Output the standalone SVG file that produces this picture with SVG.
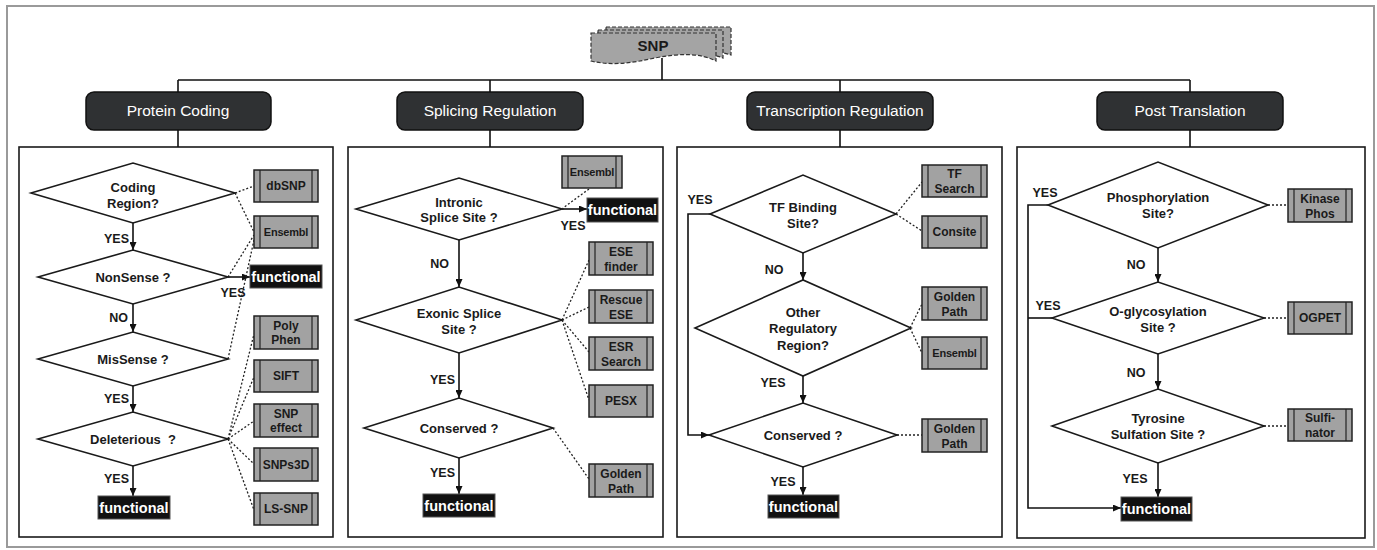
<svg xmlns="http://www.w3.org/2000/svg" width="1377" height="550" viewBox="0 0 1377 550">
<defs>
<marker id="ah" markerUnits="userSpaceOnUse" markerWidth="8" markerHeight="7" refX="8" refY="3.5" orient="auto">
<path d="M0,0 L8,3.5 L0,7 Z" fill="#111"/>
</marker>
<style>
.frame{fill:#fff;stroke:#9a9a9a;stroke-width:2}
.panel{fill:#fff;stroke:#1a1a1a;stroke-width:1.6}
.hdr rect{fill:#2f3133;stroke:#111;stroke-width:1.5}
.hdr text{font-family:"Liberation Sans",Arial,sans-serif;font-size:15.5px;fill:#fff;text-anchor:middle}
.dia{fill:#fff;stroke:#1a1a1a;stroke-width:1.6}
.q{font-family:"Liberation Sans",Arial,sans-serif;font-size:13px;font-weight:bold;fill:#1a1a1a;text-anchor:middle}
.lbl{font-family:"Liberation Sans",Arial,sans-serif;font-size:12.5px;font-weight:bold;fill:#1a1a1a}
.tool rect{fill:#a2a2a2;stroke:#222;stroke-width:1.5}
.tool line{stroke:#222;stroke-width:1.2}
.tool text{font-family:"Liberation Sans",Arial,sans-serif;font-size:12px;font-weight:bold;fill:#1a1a1a;text-anchor:middle}
.tool text.ens{font-size:11px;letter-spacing:-0.2px}
.fn rect{fill:#111;stroke:#555;stroke-width:1}
.fn text{font-family:"Liberation Sans",Arial,sans-serif;font-size:14.5px;font-weight:bold;fill:#fff;text-anchor:middle}
.flow{stroke:#111;stroke-width:1.6;fill:none}
.arr{stroke:#111;stroke-width:1.6;fill:none;marker-end:url(#ah)}
.dot{stroke:#222;stroke-width:1.3;stroke-dasharray:2 2;fill:none}
.snp{fill:#a4a4a4;stroke:#333;stroke-width:1.2;stroke-dasharray:4 2}
</style>
</defs>
<rect class="frame" x="7" y="6" width="1367" height="541"/>

<!-- SNP -->
<g id="snp">
<path class="snp" d="M606,27 H731 V55 C722,52 715,52 708,53 L708,40 L606,40 Z"/>
<path class="snp" d="M598,30 H723 V58 C716,55 710,55 704,56 L704,42 L598,42 Z"/>
<path class="snp" d="M591,33 H716 V61 C700,53 680,53 655,58 C632,63 612,66 591,61 Z"/>
<text x="653" y="51" style="font-family:'Liberation Sans',Arial,sans-serif;font-size:15px;font-weight:bold;fill:#1a1a1a;text-anchor:middle">SNP</text>
</g>

<!-- panels -->
<rect id="panel-protein" class="panel" x="19" y="147" width="314" height="390"/>
<rect id="panel-splicing" class="panel" x="348" y="147" width="315" height="390"/>
<rect id="panel-transcription" class="panel" x="677" y="147" width="325" height="390"/>
<rect id="panel-post" class="panel" x="1017" y="147" width="348" height="391"/>

<!-- connectors -->
<g id="connectors">
<path class="flow" d="M662,58 V80 M178,80 H1190 M178,80 V92 M490,80 V92 M840,80 V92 M1190,80 V92 M178,130 V147 M490,130 V147 M840,130 V147 M1190,130 V147"/>
<!-- panel 1 -->
<path class="arr" d="M133,223 V250"/>
<path class="arr" d="M228,277 H250"/>
<path class="arr" d="M133,304 V332"/>
<path class="arr" d="M133,386 V412"/>
<path class="arr" d="M133,466 V496"/>
<path class="dot" d="M235,193 L254,186 M235,193 L254,232 M228,277 L254,235 M228,359 L254,240 M228,439 L254,334 M228,439 L254,377 M228,439 L254,421 M228,439 L254,464 M228,439 L254,510"/>
<!-- panel 2 -->
<path class="arr" d="M562,209 H587"/>
<path class="arr" d="M459,240 V287"/>
<path class="arr" d="M459,353 V398"/>
<path class="arr" d="M459,458 V494"/>
<path class="dot" d="M589,189 L563,208 M562,320 L589,260 M562,320 L589,307 M562,320 L589,352 M562,320 L589,400 M553,428 L589,479"/>
<!-- panel 3 -->
<path class="arr" d="M710,214 H688 V435 H709"/>
<path class="arr" d="M803,253 V280"/>
<path class="arr" d="M803,376 V403"/>
<path class="arr" d="M803,467 V495"/>
<path class="dot" d="M896,214 L922,182 M896,214 L922,231 M910,328 L922,304 M910,328 L922,353 M897,435 H922"/>
<!-- panel 4 -->
<path class="arr" d="M1048,205 H1028 V508 H1121"/>
<path class="flow" d="M1052,318 H1028"/>
<path class="arr" d="M1158,248 V282"/>
<path class="arr" d="M1158,354 V389"/>
<path class="arr" d="M1158,463 V497"/>
<path class="dot" d="M1268,205 H1288 M1264,318 H1288 M1264,426 H1288"/>
</g>

<!-- headers -->
<g id="hdr-protein" class="hdr"><rect x="86" y="92" width="185" height="38" rx="8"/><text x="178" y="116">Protein Coding</text></g>
<g id="hdr-splicing" class="hdr"><rect x="397" y="92" width="186" height="38" rx="8"/><text x="490" y="116">Splicing Regulation</text></g>
<g id="hdr-transcription" class="hdr"><rect x="747" y="92" width="186" height="38" rx="8"/><text x="840" y="116">Transcription Regulation</text></g>
<g id="hdr-post" class="hdr"><rect x="1097" y="92" width="186" height="38" rx="8"/><text x="1190" y="116">Post Translation</text></g>

<!-- panel 1 nodes -->
<g id="q-coding"><polygon class="dia" points="31,193 133,163 235,193 133,223"/><text class="q" x="133" y="192">Coding</text><text class="q" x="133" y="208">Region?</text></g>
<g id="q-nonsense"><polygon class="dia" points="38,277 133,250 228,277 133,304"/><text class="q" x="133" y="282">NonSense ?</text></g>
<g id="q-missense"><polygon class="dia" points="38,359 133,332 228,359 133,386"/><text class="q" x="133" y="364">MisSense ?</text></g>
<g id="q-deleterious"><polygon class="dia" points="38,439 133,412 228,439 133,466"/><text class="q" x="133" y="444" xml:space="preserve">Deleterious  ?</text></g>
<g id="fn-p1a" class="fn"><rect x="250" y="265" width="72" height="23"/><text x="286" y="282">functional</text></g>
<g id="fn-p1b" class="fn"><rect x="98" y="496" width="72" height="23"/><text x="134" y="513">functional</text></g>
<g id="lbl-p1">
<text class="lbl" x="129" y="243" text-anchor="end">YES</text>
<text class="lbl" x="233" y="297" text-anchor="middle">YES</text>
<text class="lbl" x="128" y="322" text-anchor="end">NO</text>
<text class="lbl" x="129" y="403" text-anchor="end">YES</text>
<text class="lbl" x="129" y="483" text-anchor="end">YES</text>
</g>
<g id="t-dbsnp" class="tool"><rect x="254" y="170" width="64" height="32"/><line x1="260" y1="170" x2="260" y2="202"/><line x1="312" y1="170" x2="312" y2="202"/><text x="286" y="190">dbSNP</text></g>
<g id="t-ensembl1" class="tool"><rect x="254" y="216" width="64" height="32"/><line x1="260" y1="216" x2="260" y2="248"/><line x1="312" y1="216" x2="312" y2="248"/><text class="ens" x="286" y="236">Ensembl</text></g>
<g id="t-polyphen" class="tool"><rect x="254" y="316" width="64" height="33"/><line x1="260" y1="316" x2="260" y2="349"/><line x1="312" y1="316" x2="312" y2="349"/><text x="286" y="330">Poly</text><text x="286" y="344">Phen</text></g>
<g id="t-sift" class="tool"><rect x="254" y="360" width="64" height="32"/><line x1="260" y1="360" x2="260" y2="392"/><line x1="312" y1="360" x2="312" y2="392"/><text x="286" y="380">SIFT</text></g>
<g id="t-snpeffect" class="tool"><rect x="254" y="404" width="64" height="33"/><line x1="260" y1="404" x2="260" y2="437"/><line x1="312" y1="404" x2="312" y2="437"/><text x="286" y="418">SNP</text><text x="286" y="432">effect</text></g>
<g id="t-snps3d" class="tool"><rect x="254" y="448" width="64" height="33"/><line x1="260" y1="448" x2="260" y2="481"/><line x1="312" y1="448" x2="312" y2="481"/><text x="286" y="469">SNPs3D</text></g>
<g id="t-lssnp" class="tool"><rect x="254" y="493" width="64" height="32"/><line x1="260" y1="493" x2="260" y2="525"/><line x1="312" y1="493" x2="312" y2="525"/><text x="286" y="513">LS-SNP</text></g>

<!-- panel 2 nodes -->
<g id="q-intronic"><polygon class="dia" points="356,209 459,178 562,209 459,240"/><text class="q" x="459" y="207">Intronic</text><text class="q" x="459" y="222">Splice Site ?</text></g>
<g id="q-exonic"><polygon class="dia" points="356,320 459,287 562,320 459,353"/><text class="q" x="459" y="318">Exonic Splice</text><text class="q" x="459" y="334">Site ?</text></g>
<g id="q-conserved2"><polygon class="dia" points="364,428 459,398 553,428 459,458"/><text class="q" x="459" y="433">Conserved ?</text></g>
<g id="fn-p2a" class="fn"><rect x="587" y="198" width="71" height="24"/><text x="622.5" y="215">functional</text></g>
<g id="fn-p2b" class="fn"><rect x="423" y="494" width="72" height="23"/><text x="459" y="511">functional</text></g>
<g id="lbl-p2">
<text class="lbl" x="573" y="230" text-anchor="middle">YES</text>
<text class="lbl" x="449" y="268" text-anchor="end">NO</text>
<text class="lbl" x="455" y="384" text-anchor="end">YES</text>
<text class="lbl" x="455" y="477" text-anchor="end">YES</text>
</g>
<g id="t-ensembl2" class="tool"><rect x="562" y="156" width="60" height="32"/><line x1="568" y1="156" x2="568" y2="188"/><line x1="616" y1="156" x2="616" y2="188"/><text class="ens" x="592" y="176">Ensembl</text></g>
<g id="t-esefinder" class="tool"><rect x="589" y="242" width="64" height="33"/><line x1="595" y1="242" x2="595" y2="275"/><line x1="647" y1="242" x2="647" y2="275"/><text x="621" y="256">ESE</text><text x="621" y="271">finder</text></g>
<g id="t-rescueese" class="tool"><rect x="589" y="290" width="64" height="33"/><line x1="595" y1="290" x2="595" y2="323"/><line x1="647" y1="290" x2="647" y2="323"/><text x="621" y="304">Rescue</text><text x="621" y="319">ESE</text></g>
<g id="t-esrsearch" class="tool"><rect x="589" y="337" width="64" height="33"/><line x1="595" y1="337" x2="595" y2="370"/><line x1="647" y1="337" x2="647" y2="370"/><text x="621" y="351">ESR</text><text x="621" y="366">Search</text></g>
<g id="t-pesx" class="tool"><rect x="589" y="385" width="64" height="32"/><line x1="595" y1="385" x2="595" y2="417"/><line x1="647" y1="385" x2="647" y2="417"/><text x="621" y="405">PESX</text></g>
<g id="t-golden2" class="tool"><rect x="589" y="464" width="64" height="33"/><line x1="595" y1="464" x2="595" y2="497"/><line x1="647" y1="464" x2="647" y2="497"/><text x="621" y="478">Golden</text><text x="621" y="493">Path</text></g>

<!-- panel 3 nodes -->
<g id="q-tfbinding"><polygon class="dia" points="710,214 803,175 896,214 803,253"/><text class="q" x="803" y="212">TF Binding</text><text class="q" x="803" y="228">Site?</text></g>
<g id="q-otherreg"><polygon class="dia" points="695,328 803,280 911,328 803,376"/><text class="q" x="803" y="317">Other</text><text class="q" x="803" y="333">Regulatory</text><text class="q" x="803" y="350">Region?</text></g>
<g id="q-conserved3"><polygon class="dia" points="709,435 803,403 897,435 803,467"/><text class="q" x="803" y="440">Conserved ?</text></g>
<g id="fn-p3" class="fn"><rect x="768" y="495" width="71" height="23"/><text x="803.5" y="512">functional</text></g>
<g id="lbl-p3">
<text class="lbl" x="700" y="204" text-anchor="middle">YES</text>
<text class="lbl" x="774" y="274" text-anchor="middle">NO</text>
<text class="lbl" x="773" y="387" text-anchor="middle">YES</text>
<text class="lbl" x="783" y="486" text-anchor="middle">YES</text>
</g>
<g id="t-tfsearch" class="tool"><rect x="922" y="165" width="65" height="32"/><line x1="928" y1="165" x2="928" y2="197"/><line x1="981" y1="165" x2="981" y2="197"/><text x="954.5" y="178">TF</text><text x="954.5" y="193">Search</text></g>
<g id="t-consite" class="tool"><rect x="922" y="216" width="65" height="32"/><line x1="928" y1="216" x2="928" y2="248"/><line x1="981" y1="216" x2="981" y2="248"/><text x="954.5" y="236">Consite</text></g>
<g id="t-golden3a" class="tool"><rect x="922" y="287" width="65" height="33"/><line x1="928" y1="287" x2="928" y2="320"/><line x1="981" y1="287" x2="981" y2="320"/><text x="954.5" y="301">Golden</text><text x="954.5" y="316">Path</text></g>
<g id="t-ensembl3" class="tool"><rect x="922" y="337" width="65" height="32"/><line x1="928" y1="337" x2="928" y2="369"/><line x1="981" y1="337" x2="981" y2="369"/><text class="ens" x="954.5" y="357">Ensembl</text></g>
<g id="t-golden3b" class="tool"><rect x="922" y="419" width="65" height="33"/><line x1="928" y1="419" x2="928" y2="452"/><line x1="981" y1="419" x2="981" y2="452"/><text x="954.5" y="433">Golden</text><text x="954.5" y="448">Path</text></g>

<!-- panel 4 nodes -->
<g id="q-phospho"><polygon class="dia" points="1048,205 1158,162 1268,205 1158,248"/><text class="q" x="1158" y="202">Phosphorylation</text><text class="q" x="1158" y="218">Site?</text></g>
<g id="q-oglyco"><polygon class="dia" points="1052,318 1158,282 1264,318 1158,354"/><text class="q" x="1158" y="316">O-glycosylation</text><text class="q" x="1158" y="332">Site ?</text></g>
<g id="q-tyrosine"><polygon class="dia" points="1052,426 1158,389 1264,426 1158,463"/><text class="q" x="1158" y="423">Tyrosine</text><text class="q" x="1158" y="439">Sulfation Site ?</text></g>
<g id="fn-p4" class="fn"><rect x="1121" y="497" width="71" height="24"/><text x="1156.5" y="514">functional</text></g>
<g id="lbl-p4">
<text class="lbl" x="1045" y="197" text-anchor="middle">YES</text>
<text class="lbl" x="1136" y="269" text-anchor="middle">NO</text>
<text class="lbl" x="1048" y="310" text-anchor="middle">YES</text>
<text class="lbl" x="1136" y="377" text-anchor="middle">NO</text>
<text class="lbl" x="1135" y="483" text-anchor="middle">YES</text>
</g>
<g id="t-kinasephos" class="tool"><rect x="1288" y="189" width="64" height="33"/><line x1="1294" y1="189" x2="1294" y2="222"/><line x1="1346" y1="189" x2="1346" y2="222"/><text x="1320" y="203">Kinase</text><text x="1320" y="218">Phos</text></g>
<g id="t-ogpet" class="tool"><rect x="1288" y="302" width="64" height="32"/><line x1="1294" y1="302" x2="1294" y2="334"/><line x1="1346" y1="302" x2="1346" y2="334"/><text x="1320" y="322">OGPET</text></g>
<g id="t-sulfinator" class="tool"><rect x="1288" y="409" width="64" height="32"/><line x1="1294" y1="409" x2="1294" y2="441"/><line x1="1346" y1="409" x2="1346" y2="441"/><text x="1320" y="422">Sulfi-</text><text x="1320" y="437">nator</text></g>
</svg>
